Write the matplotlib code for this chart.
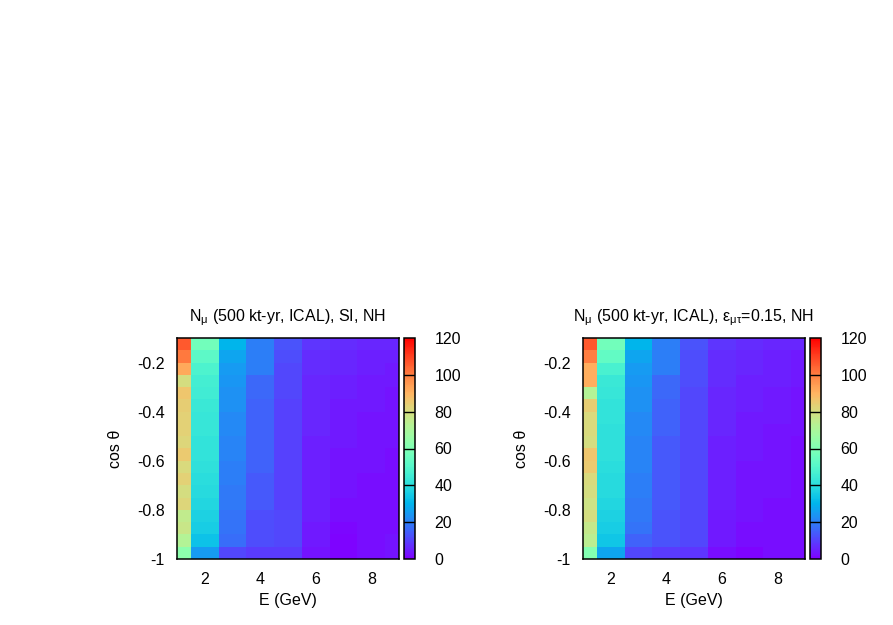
import matplotlib
matplotlib.use("Agg")
import matplotlib.pyplot as plt
import numpy as np

plt.rcParams['font.family'] = ['Liberation Sans', 'DejaVu Sans']
plt.rcParams['axes.unicode_minus'] = False
plt.rcParams['mathtext.fontset'] = 'custom'
plt.rcParams['mathtext.rm'] = 'Liberation Sans'
plt.rcParams['mathtext.it'] = 'Liberation Sans'

# energy bin centres (GeV) and cos(theta) bin edges
E = [1, 2, 3, 4, 5, 6, 7, 8, 9]
cos_edges = np.linspace(-1, -0.1, 19)

# event numbers, one list per energy bin, rows from cos=-0.1 (top) down to cos=-1
N_SI = [
    [106, 101, 92, 80, 86, 84, 83, 83, 82, 85, 81, 83, 80, 82, 75, 77, 72, 63],
    [57, 52, 48, 46, 45, 44, 43, 43, 42, 42, 41, 40, 39, 38, 37, 36, 33, 25],
    [30, 27, 25, 24, 23, 23, 22, 22, 21, 21, 20, 20, 19, 19, 18, 18, 17, 11],
    [20, 20, 20, 16, 16, 15, 15, 15, 15, 15, 15, 14, 14, 14, 12, 12, 12, 9],
    [13, 12, 11, 11, 11, 10, 10, 10, 10, 10, 10, 10, 10, 10, 11, 11, 11, 9],
    [8, 7, 7, 6, 6, 6, 6, 6, 5, 5, 5, 5, 5, 5, 5, 4, 4, 3],
    [7, 6, 6, 5, 5, 4, 4, 4, 4, 3, 3, 3, 3, 2, 2, 1, 0.5, 0.5],
    [6, 5, 5, 4, 4, 4, 3, 3, 3, 3, 3, 2, 2, 2, 2, 2, 2, 2],
    [6, 5, 4, 4, 3, 3, 3, 3, 3, 2, 2, 2, 2, 2, 2, 2, 3, 3],
]
N_NSI = [
    [106, 100, 91, 91, 72, 84, 81, 81, 80, 86, 85, 81, 80, 78, 80, 76, 74, 61],
    [57, 53, 47, 44, 43, 42, 42, 41, 41, 41, 40, 39, 39, 38, 37, 36, 34, 27],
    [30, 27, 25, 24, 23, 23, 22, 22, 21, 21, 21, 20, 20, 19, 19, 18, 15, 11],
    [20, 20, 20, 16, 16, 15, 15, 15, 14, 14, 14, 14, 14, 14, 13, 13, 13, 9],
    [13, 12, 12, 12, 11, 11, 11, 11, 11, 11, 11, 11, 11, 11, 11, 11, 11, 8],
    [8, 7, 7, 7, 6, 6, 6, 6, 5, 5, 5, 5, 5, 5, 4, 4, 4, 2],
    [7, 6, 6, 5, 5, 5, 4, 4, 4, 4, 3, 3, 3, 3, 3, 2, 2, 0.5],
    [6, 5, 5, 5, 4, 4, 4, 3, 3, 3, 3, 3, 3, 2, 2, 2, 2, 2],
    [6, 4, 4, 4, 3, 3, 3, 3, 2, 2, 2, 2, 2, 2, 2, 2, 2, 2],
]

titles = [r'N$_{\mathrm{μ}}$ (500 kt-yr, ICAL), SI, NH',
          r'N$_{\mathrm{μ}}$ (500 kt-yr, ICAL), ε$_{\mathrm{μτ}}$=0.15, NH']
xticks = [2, 4, 6, 8]
yticks = [-1, -0.8, -0.6, -0.4, -0.2]
ytick_labels = ['-1', '-0.8', '-0.6', '-0.4', '-0.2']
cticks = [0, 20, 40, 60, 80, 100, 120]

fig = plt.figure(figsize=(8.93, 6.25), dpi=100)
W, H = 893.0, 625.0

# pixel boxes: (left, right) of plot and colourbar, shared top/bottom
panels = [(177, 399, 404, 415), (583, 805, 810, 821)]
top, bot = 338, 559

# bin edges along E: centred on integer energies, clipped to [1, 9]
e_edges = np.concatenate(([E[0]], np.array(E[:-1]) + 0.5, [E[-1]]))

for k, data in enumerate([N_SI, N_NSI]):
    x0, x1, c0, c1 = panels[k]
    ax = fig.add_axes([x0 / W, 1 - bot / H, (x1 - x0) / W, (bot - top) / H])
    cax = fig.add_axes([c0 / W, 1 - bot / H, (c1 - c0) / W, (bot - top) / H])

    Z = np.array(data).T[::-1]   # rows from cos=-1 up
    m = ax.pcolormesh(e_edges, cos_edges, Z, cmap='rainbow', vmin=0, vmax=120)
    ax.set_xlim(1, 9)
    ax.set_ylim(-1, -0.1)
    ax.set_xticks(xticks)
    ax.set_yticks(yticks)
    ax.set_yticklabels(ytick_labels)
    ax.tick_params(length=0, labelsize=11.5, pad=9)
    ax.set_xlabel('E (GeV)', fontsize=11.5, labelpad=5)
    ax.set_ylabel('cos θ', fontsize=11.5, labelpad=10)
    ax.set_title(titles[k], fontsize=11.5, pad=12)
    for s in ax.spines.values():
        s.set_linewidth(1.1)

    cb = fig.colorbar(m, cax=cax, ticks=cticks)
    cb.outline.set_linewidth(1.1)
    cax.tick_params(length=0, labelsize=11.5, pad=14)
    for t in cticks[1:-1]:
        cax.axhline(t, color='black', lw=1)

fig.savefig('out.png', dpi=100)
